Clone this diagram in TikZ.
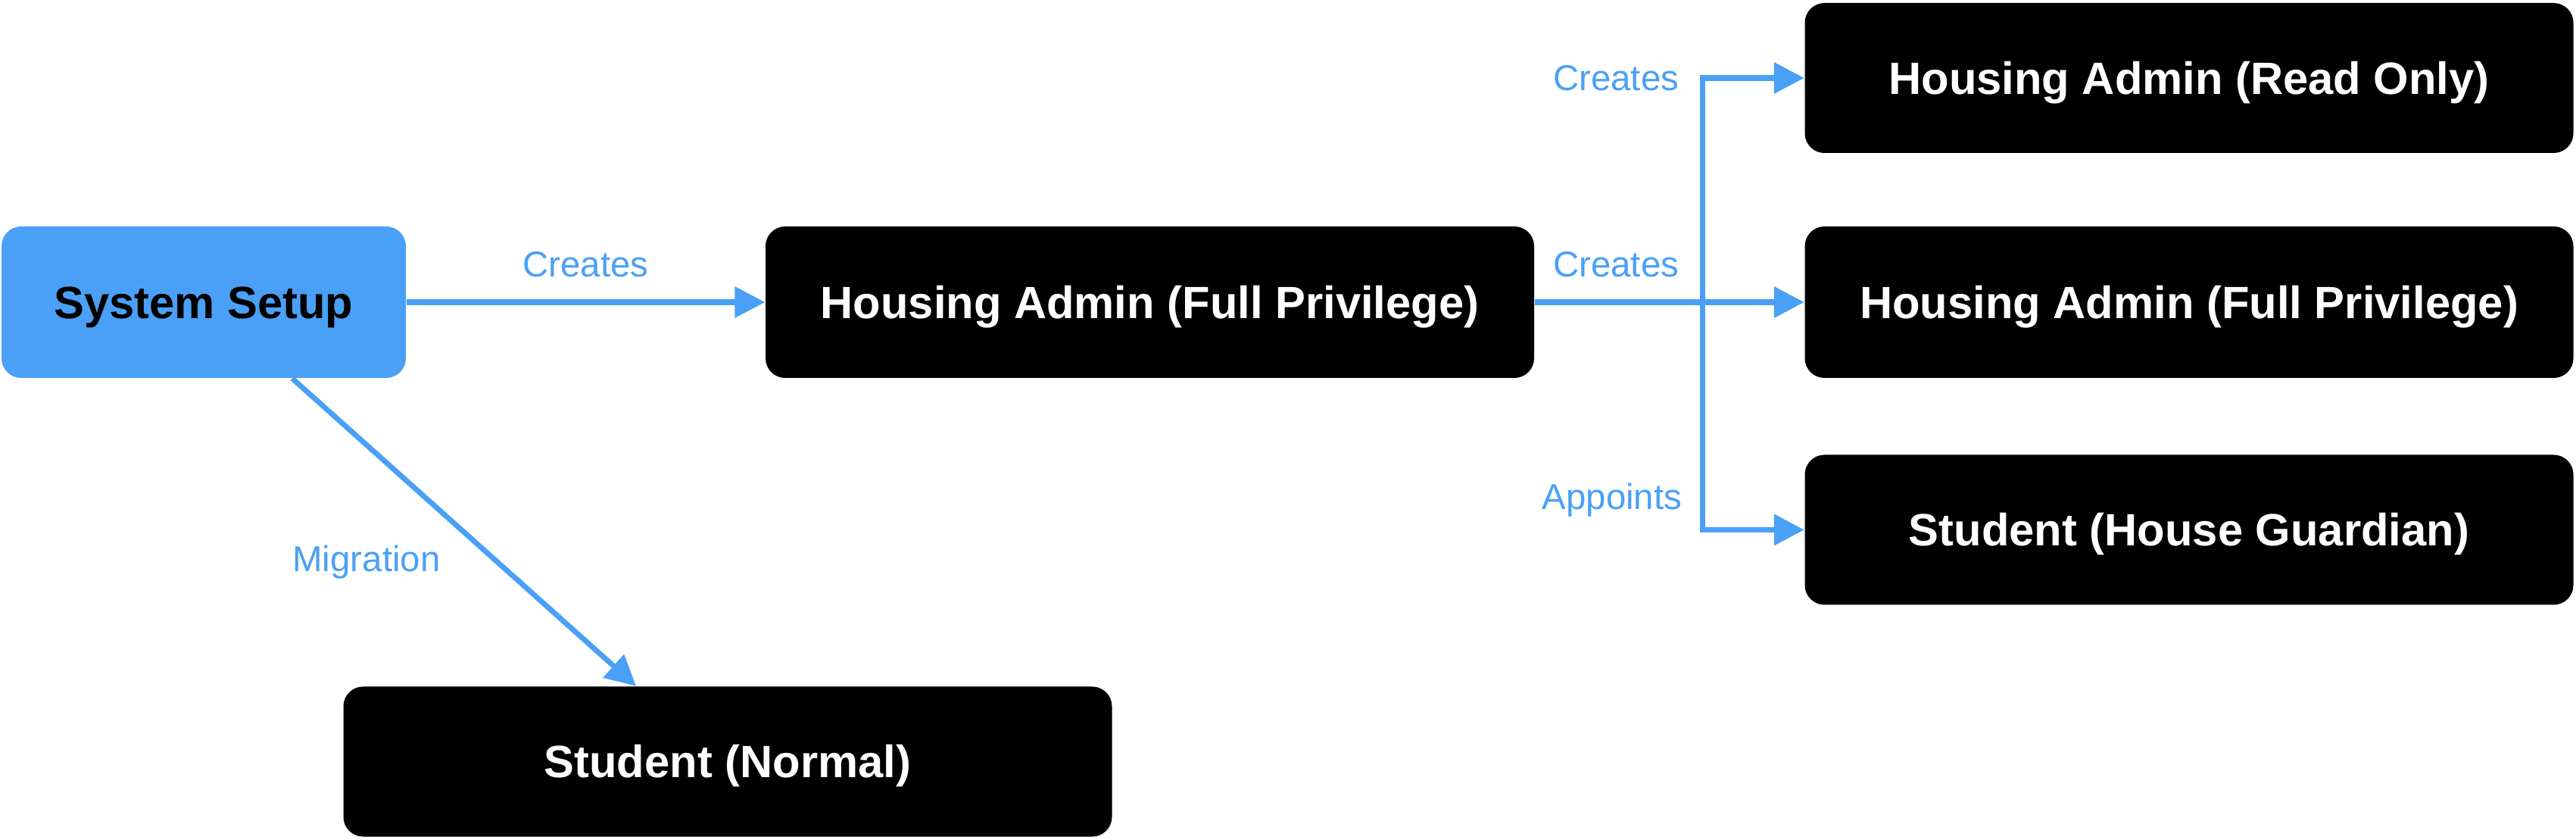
\documentclass[tikz,border=0pt]{standalone}
\usepackage{fontspec}
\setmainfont{Liberation Sans}
\usetikzlibrary{arrows.meta}
\definecolor{setupblue}{RGB}{74,160,246}
\tikzset{
	box/.style={fill=black, text=white, rounded corners=0.26cm, minimum width=10.15cm, minimum height=1.98cm, inner sep=0pt, text height=12.2pt, text depth=0pt, font=\bfseries\fontsize{17}{20}\selectfont},
	link/.style={draw=setupblue, line width=2pt, -{Triangle[length=0.4cm,width=0.4cm]}},
	lbl/.style={text=setupblue, inner sep=0pt, font=\fontsize{13.5}{16}\selectfont}
}
\begin{document}
\begin{tikzpicture}
\useasboundingbox (0,0) rectangle (34.02,11.08);

	\node[box, fill=setupblue, text=black, minimum width=5.34cm, minimum height=2cm] (setup) at (2.69,7.09) {System Setup};
	\node[box, minimum height=2cm] (fulladmin) at (15.185,7.09) {Housing Admin (Full Privilege)};
	\node[box] (normal) at (9.61,1.025) {Student (Normal)};

	\node[box] (readonly) at (28.91,10.05) {Housing Admin (Read Only)};
	\node[box, minimum height=2cm] (fulladmintwo) at (28.91,7.09) {Housing Admin (Full Privilege)};
	\node[box] (guardian) at (28.91,4.085) {Student (House Guardian)};

	\draw[link] (setup.east) -- (fulladmin.west) node[lbl, midway, yshift=0.5cm] {Creates};
	\draw[link] ([xshift=1.17cm]setup.south) -- ([xshift=-1.21cm]normal.north);
	\node[lbl] (migration) at (4.84,3.66) {Migration};

	\coordinate (fork) at (22.48,7.09);
	\draw[link] (fulladmin.east) -- (fulladmintwo.west);
	\draw[link] (fork) |- (readonly.west);
	\draw[link] (fork) |- (guardian.west);

	\node[lbl, anchor=east] (createsro) at (22.18,10.05) {Creates};
	\node[lbl, anchor=east] (createsfull) at (22.18,7.59) {Creates};
	\node[lbl, anchor=east] (appoints) at (22.22,4.48) {Appoints};
\end{tikzpicture}
\end{document}
